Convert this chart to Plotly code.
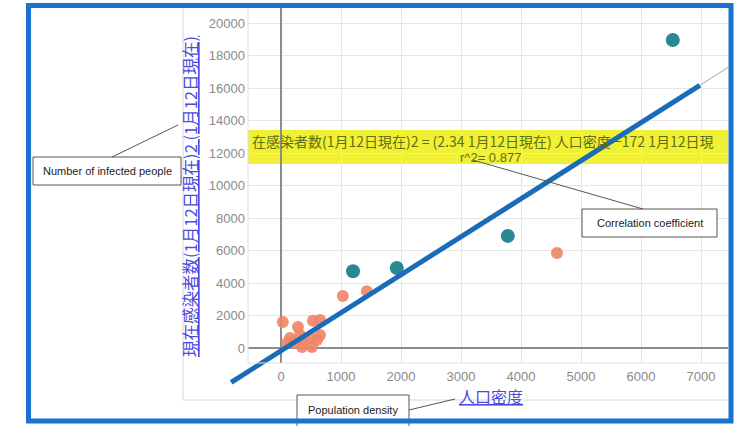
import plotly.graph_objects as go

# ---------------- data ----------------
# Population density (x) vs. current infected (y), 12 Jan
teal_density = [6530, 3780, 1200, 1930]
teal_infected = [18950, 6900, 4720, 4920]

orange_density = [4600, 1030, 1430, 30, 283, 533, 650, 150, 233, 367, 483, 600, 517, 350, 100, 317, 650]
orange_infected = [5850, 3200, 3500, 1600, 1290, 1680, 1720, 615, 308, 492, 615, 492, 62, 62, 308, 800, 800]

fit_slope = 2.34
fit_intercept = -172
fit_x = [-830, 6980]
fit_x_thin = [-830, 7450]
r_squared = 0.877

x_ticks = [0, 1000, 2000, 3000, 4000, 5000, 6000, 7000]
y_ticks = [0, 2000, 4000, 6000, 8000, 10000, 12000, 14000, 16000, 18000, 20000]

x_title = "人口密度"
y_title = "現在感染者数(1月12日現在)2 (1月12日現在)"
eq_text = "在感染者数(1月12日現在)2 = (2.34 1月12日現在) 人口密度 −172 1月12日現"
r2_text = "r^2= %.3f" % r_squared
label_infected = "Number of infected people"
label_corr = "Correlation coefficient"
label_density = "Population density"

# ---------------- geometry helpers ----------------
W, H = 744, 426
def px(x):
    return x / W
def py(y):
    return 1 - y / H

# pixel mapping of the axes
X0_PX, X_PER_K = 281.0, 60.0      # x=0 at 281 px, 60 px per 1000
Y0_PX, Y_PER_K = 348.0, 16.25     # y=0 at 348 px, 16.25 px per 1000
def xval(p):
    return (p - X0_PX) / X_PER_K * 1000
def yval(p):
    return (Y0_PX - p) / Y_PER_K * 1000

PL, PR, PT, PB = 248, 728, 8, 363     # main plot area (px)
OL, OB = 183, 400                      # overflow area for fit line

fit_y = [fit_slope * v + fit_intercept for v in fit_x]
fit_y_thin = [fit_slope * v + fit_intercept for v in fit_x_thin]

fig = go.Figure()

fig.add_trace(go.Scatter(
    x=fit_x_thin, y=fit_y_thin, mode="lines",
    line=dict(color="#86b886", width=1), hoverinfo="skip", showlegend=False,
    xaxis="x", yaxis="y"))

fig.add_trace(go.Scatter(
    x=orange_density, y=orange_infected, mode="markers",
    marker=dict(color="#f08466", size=12, opacity=0.9),
    showlegend=False, xaxis="x", yaxis="y"))

fig.add_trace(go.Scatter(
    x=teal_density, y=teal_infected, mode="markers",
    marker=dict(color="#2a8796", size=14),
    showlegend=False, xaxis="x", yaxis="y"))

# thick regression line on an overflow subplot with identical scale
fig.add_trace(go.Scatter(
    x=fit_x, y=fit_y, mode="lines",
    line=dict(color="#1a6cb8", width=5), hoverinfo="skip", showlegend=False,
    xaxis="x2", yaxis="y2"))

grid_c = "#e6e6e6"
tick_font = dict(family="Liberation Sans, Arial", size=13, color="#8a8a8a")

fig.update_layout(
    width=W, height=H, autosize=False,
    margin=dict(l=0, r=0, t=0, b=0),
    paper_bgcolor="white", plot_bgcolor="rgba(0,0,0,0)",
    xaxis=dict(domain=[px(PL), px(PR)], range=[xval(PL), xval(PR)],
               tickvals=x_ticks, tickformat="d", showgrid=True, gridcolor=grid_c, gridwidth=1,
               zeroline=True, zerolinecolor="#8c8c8c", zerolinewidth=2,
               tickfont=tick_font, ticks="", ticklabelstandoff=4,
               showline=False, anchor="y"),
    yaxis=dict(domain=[py(PB), py(PT)], range=[yval(PB), yval(PT)],
               tickvals=y_ticks, tickformat="d", showgrid=True, gridcolor=grid_c, gridwidth=1,
               zeroline=True, zerolinecolor="#8c8c8c", zerolinewidth=2,
               tickfont=tick_font, ticks="", ticklabelstandoff=2,
               showline=False, anchor="x"),
    xaxis2=dict(domain=[px(OL), px(PR)], range=[xval(OL), xval(PR)],
                visible=False, showgrid=False, zeroline=False, anchor="y2"),
    yaxis2=dict(domain=[py(OB), py(PT)], range=[yval(OB), yval(PT)],
                visible=False, showgrid=False, zeroline=False, anchor="x2"),
)

shapes = []
# yellow equation band
shapes.append(dict(type="rect", xref="paper", yref="paper",
                   x0=px(PL), x1=px(PR), y0=py(164), y1=py(130),
                   fillcolor="#f0f035", line=dict(width=0), layer="below"))
# outer light frame
shapes.append(dict(type="line", xref="paper", yref="paper",
                   x0=px(OL), x1=px(OL), y0=py(OB), y1=py(8),
                   line=dict(color="#d8d8d8", width=1)))
shapes.append(dict(type="line", xref="paper", yref="paper",
                   x0=px(OL), x1=px(PR), y0=py(OB), y1=py(OB),
                   line=dict(color="#d8d8d8", width=1)))
shapes.append(dict(type="line", xref="paper", yref="paper",
                   x0=px(PL), x1=px(PR), y0=py(PB), y1=py(PB),
                   line=dict(color="#e0e0e0", width=1)))
shapes.append(dict(type="line", xref="paper", yref="paper",
                   x0=px(PL), x1=px(PL), y0=py(PB), y1=py(PT),
                   line=dict(color="#e0e0e0", width=1)))
# callout boxes
box_line = dict(color="#555555", width=1)
shapes.append(dict(type="rect", xref="paper", yref="paper",
                   x0=px(33), x1=px(181), y0=py(185), y1=py(157),
                   fillcolor="white", line=box_line))
shapes.append(dict(type="rect", xref="paper", yref="paper",
                   x0=px(582), x1=px(717), y0=py(237), y1=py(209),
                   fillcolor="white", line=box_line))
shapes.append(dict(type="rect", xref="paper", yref="paper",
                   x0=px(297), x1=px(409), y0=py(428), y1=py(395),
                   fillcolor="white", line=box_line))
# leader lines
lead = dict(color="#555555", width=1)
shapes.append(dict(type="line", xref="paper", yref="paper",
                   x0=px(112), y0=py(157), x1=px(178), y1=py(125), line=lead))
shapes.append(dict(type="line", xref="paper", yref="paper",
                   x0=px(473), y0=py(160), x1=px(643), y1=py(209), line=lead))
shapes.append(dict(type="line", xref="paper", yref="paper",
                   x0=px(409), y0=py(410), x1=px(455), y1=py(399), line=lead))
# blue outer border
shapes.append(dict(type="rect", xref="paper", yref="paper",
                   x0=px(28.5), x1=px(731), y0=py(421), y1=py(5.5),
                   line=dict(color="#1874cd", width=5), fillcolor="rgba(0,0,0,0)"))
fig.update_layout(shapes=shapes)

cjk = "Noto Sans CJK JP"
ann = []
ann.append(dict(xref="paper", yref="paper", x=px(190), y=py(197),
                text="<u>" + y_title + "</u>", textangle=-90, showarrow=False,
                font=dict(family=cjk, size=16.5, color="#4b4be0"),
                xanchor="center", yanchor="middle"))
ann.append(dict(xref="paper", yref="paper", x=px(491), y=py(396),
                text="<u>" + x_title + "</u>", showarrow=False,
                font=dict(family=cjk, size=16, color="#4b4be0"),
                xanchor="center", yanchor="middle"))
ann.append(dict(xref="paper", yref="paper", x=px(250), y=py(141),
                text=eq_text, showarrow=False,
                font=dict(family=cjk, size=14, color="#5f6f12"),
                xanchor="left", yanchor="middle"))
ann.append(dict(xref="paper", yref="paper", x=px(490), y=py(157),
                text=r2_text, showarrow=False,
                font=dict(family="Liberation Sans, Arial", size=13, color="#5f6f12"),
                xanchor="center", yanchor="middle"))
lab_font = dict(family="Liberation Sans, Arial", size=11, color="#222222")
ann.append(dict(xref="paper", yref="paper", x=px(107), y=py(171),
                text=label_infected, showarrow=False, font=lab_font,
                xanchor="center", yanchor="middle"))
ann.append(dict(xref="paper", yref="paper", x=px(649.5), y=py(223),
                text=label_corr, showarrow=False, font=lab_font,
                xanchor="center", yanchor="middle"))
ann.append(dict(xref="paper", yref="paper", x=px(353), y=py(410),
                text=label_density, showarrow=False, font=lab_font,
                xanchor="center", yanchor="middle"))
fig.update_layout(annotations=ann)

fig.write_html("out.html")
